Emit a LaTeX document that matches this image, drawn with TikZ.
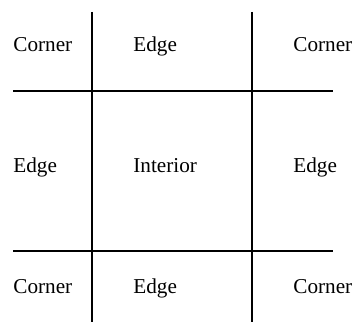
\documentclass[tikz,border=0pt]{standalone}
\usepackage{fontspec}
\setmainfont{Liberation Serif}

\begin{document}
\begin{tikzpicture}[x=0.5pt, y=-0.5pt,
    gridline/.style={line width=1pt},
    region/.style={anchor=base west, inner sep=0pt, font=\fontsize{10.6}{12}\selectfont}]
  \useasboundingbox (0,0) rectangle (353,326);
  % grid lines
  \coordinate (V1top) at (92,12);  \coordinate (V1bot) at (92,322);
  \coordinate (V2top) at (252,12); \coordinate (V2bot) at (252,322);
  \coordinate (H1left) at (13,91);  \coordinate (H1right) at (333,91);
  \coordinate (H2left) at (13,251); \coordinate (H2right) at (333,251);
  \draw[gridline] (V1top) -- (V1bot);
  \draw[gridline] (V2top) -- (V2bot);
  \draw[gridline] (H1left) -- (H1right);
  \draw[gridline] (H2left) -- (H2right);
  % labels
  \node[region] (cornerTL) at (13,52)  {Corner};
  \node[region] (edgeT)    at (133,52) {Edge};
  \node[region] (cornerTR) at (293,52) {Corner};
  \node[region] (edgeL)    at (13,172)  {Edge};
  \node[region] (interior) at (133,172) {Interior};
  \node[region] (edgeR)    at (293,172) {Edge};
  \node[region] (cornerBL) at (13,293)  {Corner};
  \node[region] (edgeB)    at (133,293) {Edge};
  \node[region] (cornerBR) at (293,293) {Corner};
\end{tikzpicture}
\end{document}
